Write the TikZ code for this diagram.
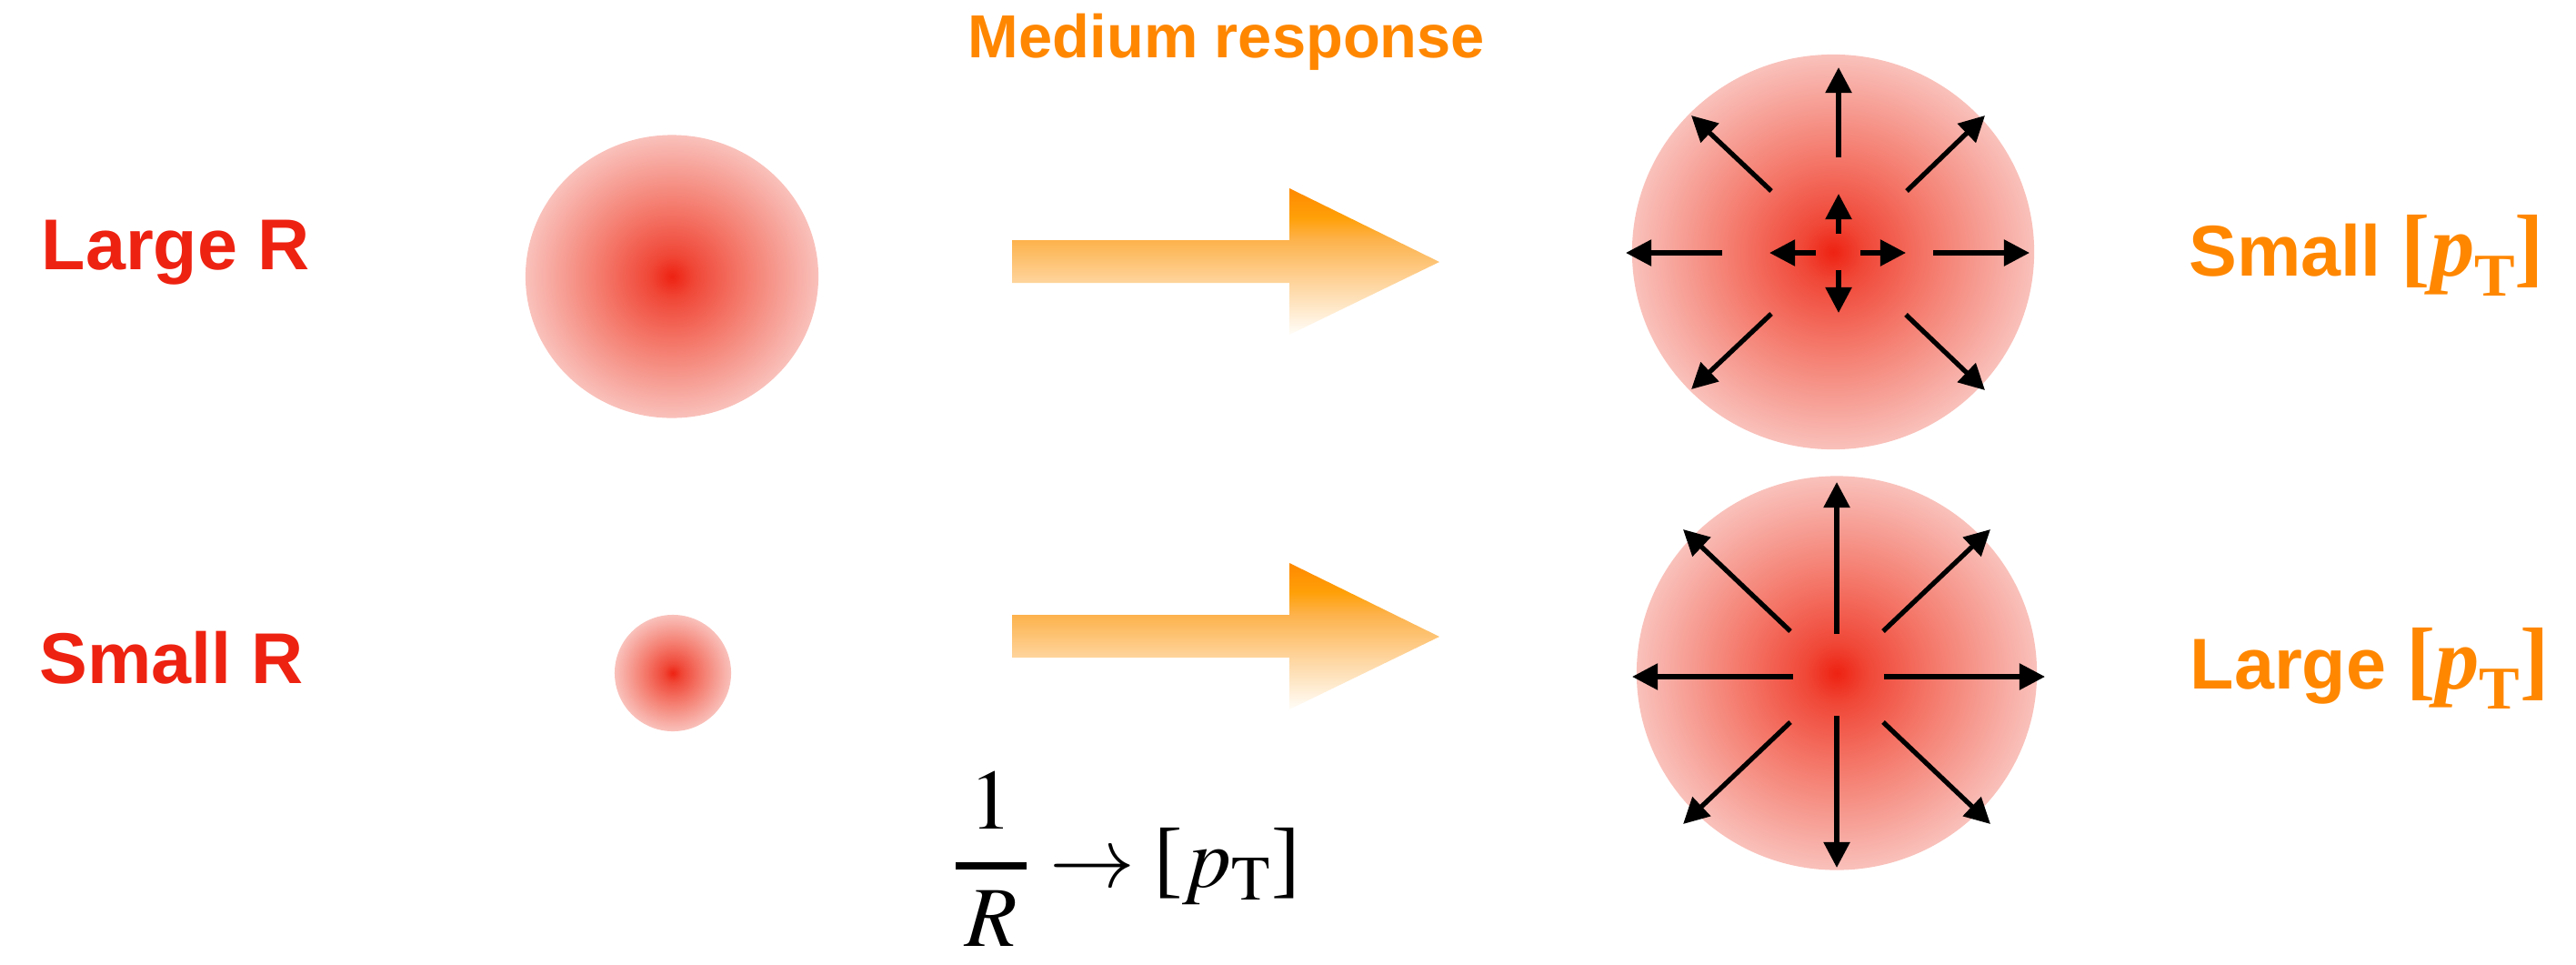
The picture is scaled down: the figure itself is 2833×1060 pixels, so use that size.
\documentclass[tikz,border=0pt]{standalone}
\usepackage{amsmath}
\usepackage{mathptmx}
\usepackage[no-math]{fontspec}
\usepackage{xcolor}
\usepackage{tikz}
\usetikzlibrary{shapes.geometric, arrows.meta}

\newfontfamily\labelfont{Liberation Sans}
\newfontfamily\timesfont{Liberation Serif}

\definecolor{hotred}{RGB}{238,34,17}
\definecolor{floworange}{RGB}{255,135,0}
\definecolor{blobcore}{RGB}{238,34,18}
\definecolor{blobmid}{RGB}{240,72,56}
\definecolor{blobhalf}{RGB}{244,120,106}
\definecolor{blobedge}{RGB}{249,193,187}
\definecolor{flowtop}{RGB}{255,137,0}
\definecolor{flowhi}{RGB}{255,160,8}
\definecolor{flowmid}{RGB}{253,178,75}
\definecolor{flowlow}{RGB}{254,213,158}
\definecolor{flowbot}{RGB}{255,253,248}

\pgfdeclareradialshading{blob}{\pgfpoint{0bp}{0bp}}{color(0bp)=(blobcore); color(4bp)=(blobmid); color(12bp)=(blobhalf); color(25bp)=(blobedge); color(50bp)=(blobedge)}
\pgfdeclareverticalshading{flow}{100bp}{color(0bp)=(flowbot); color(25bp)=(flowbot); color(42.5bp)=(flowlow); color(57.5bp)=(flowmid); color(65bp)=(flowhi); color(75bp)=(flowtop); color(100bp)=(flowtop)}

\begin{document}
\begin{tikzpicture}[
  x=0.01cm, y=-0.01cm,
  blob/.style     = {ellipse, shade, shading=blob, inner sep=0pt},
  rlbl/.style     = {text=hotred, inner sep=0pt, anchor=base west,
                     font=\labelfont\bfseries\fontsize{22.5}{27}\selectfont},
  olbl/.style     = {text=floworange, inner sep=0pt, anchor=base west,
                     font=\labelfont\bfseries\fontsize{22.5}{27}\selectfont},
  flowbody/.style = {shade, shading=flow, draw=none},
  ray/.style      = {-{Triangle[length=8pt, width=8pt]}, line width=1.5pt, black}
]
\useasboundingbox (0,0) rectangle (2833,1060);

\node[rlbl] (larger) at (45,296) {Large R};
\node[rlbl] (smallr) at (43,751) {Small R};

\node[blob, minimum width=3.22cm, minimum height=3.11cm] (bigdrop) at (739,304) {};
\node[blob, minimum size=1.28cm] (smalldrop) at (740,740) {};

\node[olbl, anchor=base, font=\labelfont\bfseries\fontsize{19}{22}\selectfont]
  (resp) at (1349,63) {Medium response};

\foreach \dy in {0,412}
  \shade[flowbody, shift={(0,\dy)}] (1113,264) -- (1418,264) -- (1418,207)
    -- (1583,288) -- (1418,368) -- (1418,311) -- (1113,311) -- cycle;

\node[blob, minimum width=4.42cm, minimum height=4.34cm] (hot1) at (2016,277) {};
\node[blob, minimum width=4.40cm, minimum height=4.33cm] (hot2) at (2020,740) {};
\coordinate (burst1) at (2022,278);
\coordinate (burst2) at (2020,744);

\foreach \ax/\ay/\bx/\by in {0/-105/0/-204, -128/0/-234/0, 104/0/210/0,
    -25/0/-76/0, 24/0/74/0, 0/-21/0/-65, 0/19/0/66,
    -74/-68/-162/-151, 75/-68/161/-151, -74/67/-162/150, 74/68/161/151}
  \draw[ray] ([shift={(\ax,\ay)}]burst1) -- ([shift={(\bx,\by)}]burst1);

\foreach \ax/\ay/\bx/\by in {0/-47/0/-214, 0/43/0/210, -48/0/-225/0, 52/0/229/0,
    -51/-50/-169/-162, 51/-50/169/-162, -51/50/-169/162, 51/50/169/162}
  \draw[ray] ([shift={(\ax,\ay)}]burst2) -- ([shift={(\bx,\by)}]burst2);

\node[olbl] (smallpt) at (2407,303) {Small {\timesfont\fontsize{27.5}{30}\selectfont
  [\textit{p}\raisebox{-6.5pt}{\fontsize{19}{20}\selectfont T}]}};
\node[olbl] (largept) at (2408,757) {Large {\timesfont\fontsize{27.5}{30}\selectfont
  [\textit{p}\raisebox{-6.5pt}{\fontsize{19}{20}\selectfont T}]}};

\node[inner sep=0pt, anchor=base west, font=\fontsize{26.7}{30}\selectfont] (law) at (1046,975)
  {$\displaystyle\genfrac{}{}{2.3pt}{}{1}{\hskip3pt R\hskip3pt}\to
   \mathopen{\text{\timesfont[}}p_{\mathrm{T}}\mathclose{\text{\timesfont]}}$};
\end{tikzpicture}
\end{document}
